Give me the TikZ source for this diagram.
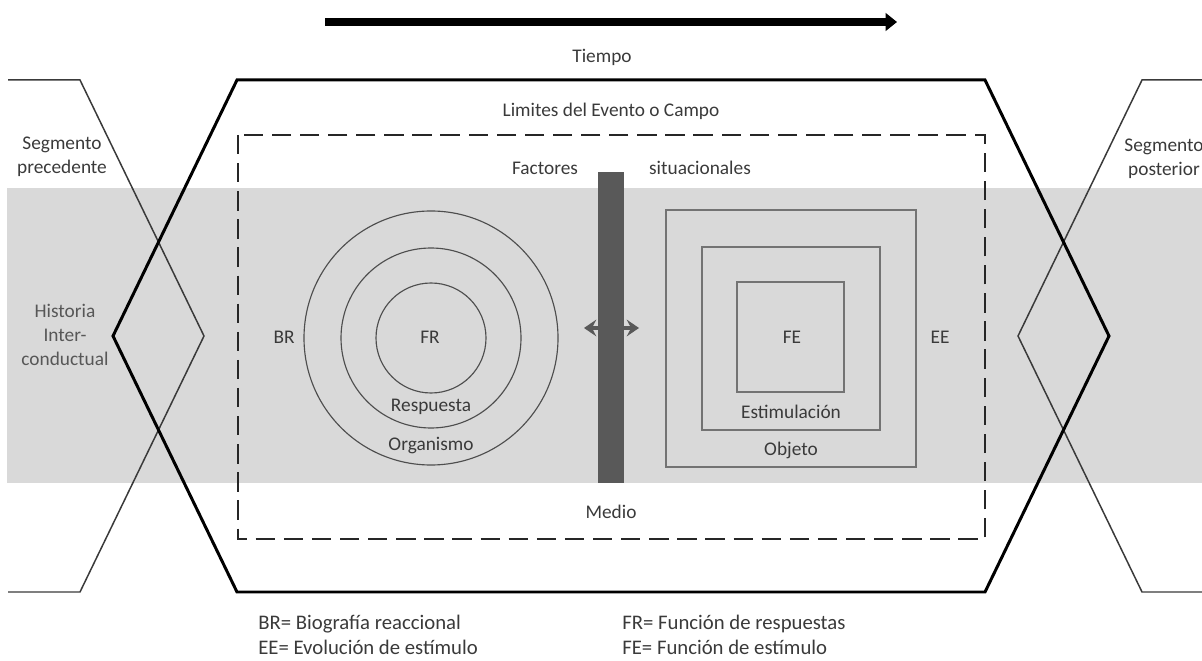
\documentclass[tikz,border=0pt]{standalone}
\usepackage{fontspec}
\setmainfont{Carlito}
\usetikzlibrary{arrows.meta}
\definecolor{band}{HTML}{D9D9D9}
\definecolor{txt}{HTML}{3A3A3A}
\definecolor{bar}{HTML}{595959}

\begin{document}
\begin{tikzpicture}[x=0.02cm, y=-0.02cm,
    lbl/.style={text=txt, inner sep=0pt, font=\fontsize{11}{13.5}\selectfont, align=center},
    legend/.style={text=txt, inner sep=0pt, anchor=west, font=\fontsize{11.8}{14}\selectfont},
    edge/.style={line width=1.7pt, black, line join=miter},
    seg/.style={line width=0.85pt, txt},
    ring/.style={line width=0.65pt, txt!90},
    frame/.style={line width=0.8pt, black!55},
    twoway/.style={<->, >={Stealth[length=7pt, width=9.5pt, inset=2.5pt]}, line width=1.8pt, bar}]
    \useasboundingbox (0, 0) rectangle (1202, 661);

    \fill[band] (7, 188) rectangle (1202, 483);

    \draw[seg] (8, 80) -- (80, 80) -- (204, 336) -- (80, 592) -- (8, 592);
    \draw[seg] (1202, 80) -- (1142, 80) -- (1018, 336) -- (1142, 592) -- (1202, 592);
    \draw[edge] (237, 80) -- (985, 80) -- (1109, 336) -- (985, 592) -- (237, 592) -- (113, 336) -- cycle;
    \draw[line width=1.4pt, black!85, dash pattern=on 11pt off 5pt] (238, 135) rectangle (985, 539);

    \coordinate (t0) at (325, 22);
    \coordinate (t1) at (897, 22);
    \draw[line width=4.5pt, -{Triangle[length=6.5pt, width=10pt]}] (t0) -- (t1);

    \node[lbl] (tiempo) at (602, 57) {Tiempo};
    \node[lbl] (limites) at (611, 111) {Limites del Evento o Campo};
    \node[lbl] (factores) at (545, 168) {Factores};
    \node[lbl] (situac) at (700, 168) {situacionales};
    \node[lbl] (medio) at (611, 512) {Medio};

    \node[lbl] (segpre) at (62, 157) {Segmento\\precedente};
    \node[lbl] (segpos) at (1164, 159) {Segmento\\posterior};
    \node[lbl, text=txt!85] (historia) at (65, 335) {Historia\\Inter-\\conductual};

    \draw[ring] (431, 338) circle [radius=127];
    \draw[ring] (431, 338) circle [radius=90];
    \draw[ring] (431, 338) circle [radius=55];
    \draw[frame] (666, 210) rectangle (916, 467);
    \draw[frame] (702, 247) rectangle (880, 430);
    \draw[frame] (737, 282) rectangle (844, 392);

    \node[lbl] (br) at (284, 337) {BR};
    \node[lbl] (ee) at (940, 337) {EE};
    \node[lbl] (fr) at (430, 337) {FR};
    \node[lbl] (fe) at (792, 337) {FE};
    \node[lbl] (resp) at (431, 407) {Respuesta};
    \node[lbl] (org) at (431, 446) {Organismo};
    \node[lbl] (estim) at (791, 412) {Estimulación};
    \node[lbl] (objeto) at (791, 450) {Objeto};

    \coordinate (la) at (584, 328);
    \coordinate (ra) at (639, 328);
    \draw[twoway] (la) -- (ra);
    \fill[bar] (598, 172) rectangle (624, 483);

    \node[legend] (legbr) at (258, 624) {BR= Biografía reaccional};
    \node[legend] (legee) at (258, 647) {EE= Evolución de estímulo};
    \node[legend] (legfr) at (622, 624) {FR= Función de respuestas};
    \node[legend] (legfe) at (622, 647) {FE= Función de estímulo};
\end{tikzpicture}
\end{document}
